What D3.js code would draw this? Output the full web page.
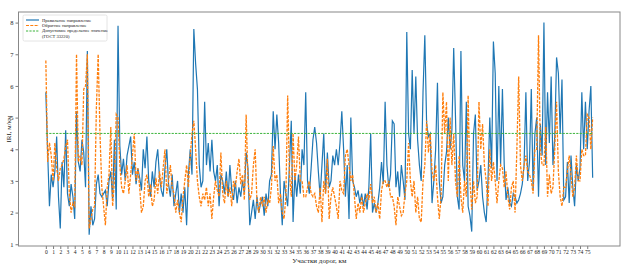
<!DOCTYPE html>
<html>
<head>
<meta charset="utf-8">
<title>IRI по участкам дорог</title>
<script src="https://d3js.org/d3.v7.min.js"></script>
<style>
    body { margin: 0; background: #fff; }
    #chart text { font-family: "Liberation Serif", "DejaVu Serif", serif; fill: #222; }
    .line { fill: none; }
</style>
</head>
<body>
<div id="chart"></div>
<script>
// шаг между замерами, км
var step = 0.25;

// Правильное направление (4 замера на км)
var forward = [
    5.8, 3.9, 2.2, 3.2,  2.8, 3.3, 4.4, 2.5,  1.5, 3.6, 2.8, 4.6,  2.6, 2.2, 2.9, 2.5,
    1.8, 5.2, 3.6, 3.3,  4.3, 3.9, 2.8, 7.1,  1.3, 2.2, 1.6, 1.8,  2.9, 3.2, 2.6, 2.5,
    2.6, 2.7, 2.2, 3.0,  3.3, 2.4, 4.3, 2.1,  7.9, 4.1, 3.2, 3.7,  3.0, 3.8, 4.1, 4.4,
    3.2, 3.6, 2.9, 3.4,  3.1, 2.7, 4.0, 3.4,  4.4, 3.0, 2.5, 3.3,  2.8, 3.6, 4.0, 3.1,
    2.7, 2.5, 3.4, 4.0,  2.9, 2.5, 3.2, 2.2,  2.6, 3.0, 2.0, 2.6,  2.0, 2.8, 1.6, 3.2,
    4.0, 3.2, 7.8, 6.7,  5.9, 3.5, 2.8, 3.0,  5.5, 3.5, 4.2, 3.3,  4.3, 3.3, 3.0, 3.5,
    2.2, 3.2, 3.0, 2.6,  3.3, 2.5, 3.5, 2.7,  2.4, 3.0, 2.3, 2.8,  2.5, 3.0, 2.6, 3.9,
    3.4, 1.6, 2.0, 2.4,  1.8, 2.5, 2.0, 2.3,  2.5, 1.9, 2.6, 2.2,  3.0, 3.2, 5.2, 4.0,
    5.1, 4.2, 2.6, 1.6,  3.0, 2.6, 2.2, 3.5,  4.9, 1.7, 3.2, 2.5,  3.2, 2.6, 4.0, 3.5,
    5.8, 3.0, 2.6, 3.4,  4.3, 4.7, 4.2, 3.3,  2.5, 3.5, 4.5, 2.6,  3.9, 2.8, 3.0, 3.8,
    3.5, 4.0, 3.5, 4.2,  5.2, 4.0, 2.5, 3.5,  1.8, 5.0, 3.0, 2.8,  2.5, 2.7, 2.3, 2.6,
    2.2, 2.6, 2.1, 2.8,  4.5, 2.0, 2.3, 2.0,  2.3, 2.8, 3.6, 2.9,  5.5, 3.5, 2.8, 3.2,
    4.9, 4.8, 2.8, 3.3,  2.5, 3.5, 3.0, 2.4,  7.7, 4.5, 4.0, 6.5,  4.5, 6.3, 4.3, 3.5,
    3.0, 5.8, 7.6, 4.8,  4.4, 4.5, 2.3, 3.0,  4.0, 6.1, 3.0, 2.3,  2.5, 3.5, 3.9, 5.0,
    4.0, 4.6, 7.2, 5.0,  2.5, 2.1, 7.1, 3.5,  3.0, 5.5, 2.2, 1.9,  1.4, 4.5, 5.1, 2.7,
    3.0, 3.5, 2.5, 2.0,  1.7, 3.0, 5.0, 3.4,  7.4, 6.4, 3.0, 6.0,  3.5, 5.9, 3.5, 2.4,
    2.8, 2.3, 2.2, 2.6,  2.5, 2.3, 2.4, 2.6,  2.9, 3.5, 5.8, 3.0,  3.6, 5.9, 2.7, 4.5,
    5.0, 2.5, 4.8, 3.8,  8.0, 3.5, 5.8, 4.2,  6.3, 3.5, 4.4, 6.9,  6.4, 4.5, 6.2, 2.4,
    2.5, 3.6, 2.3, 3.8,  2.8, 2.2, 3.5, 3.0,  3.4, 5.8, 4.0, 5.5,  4.0, 5.2, 6.0, 3.1
];

// Обратное направление
var backward = [
    6.8, 3.6, 4.2, 3.8,  3.0, 4.2, 3.4, 3.0,  3.4, 3.5, 3.7, 4.1,  4.3, 2.6, 2.0, 2.3,
    2.2, 7.0, 3.6, 3.8,  3.5, 5.9, 6.0, 7.0,  1.5, 1.8, 2.1, 2.2,  5.3, 7.0, 4.5, 2.8,
    2.2, 1.6, 2.8, 3.2,  4.7, 2.2, 3.0, 5.1,  5.0, 3.5, 2.8, 2.6,  3.0, 3.5, 2.6, 3.2,
    3.8, 4.5, 3.0, 3.4,  2.8, 2.0, 2.2, 3.0,  3.2, 2.5, 2.9, 2.2,  2.4, 3.1, 2.6, 3.3,
    2.8, 3.4, 4.0, 2.6,  3.0, 3.5, 2.8, 2.6,  2.0, 2.4, 2.0, 1.7,  2.5, 3.0, 3.5, 2.8,
    3.8, 4.5, 4.9, 4.0,  3.0, 2.5, 2.2, 2.6,  2.4, 2.8, 2.2, 2.6,  1.8, 2.5, 3.0, 2.7,
    2.5, 3.9, 2.6, 2.3,  3.0, 2.5, 2.8, 2.2,  3.0, 2.8, 3.3, 3.7,  2.9, 3.2, 2.4, 5.1,
    3.0, 2.4, 2.6, 3.5,  4.0, 2.3, 2.0, 2.5,  2.2, 2.5, 2.0, 2.4,  2.3, 2.8, 4.1, 3.0,
    3.2, 2.3, 2.6, 2.0,  1.8, 2.5, 5.7, 3.2,  2.5, 4.5, 3.0, 3.5,  4.4, 3.0, 3.0, 2.5,
    2.5, 2.8, 3.0, 2.6,  2.5, 2.6, 2.2, 2.0,  2.8, 1.7, 3.0, 2.6,  3.7, 1.8, 2.5, 2.8,
    2.5, 2.2, 1.8, 3.0,  2.7, 2.6, 3.8, 4.0,  3.5, 3.0, 3.2, 2.5,  1.8, 2.3, 2.0, 2.5,
    2.0, 2.3, 2.6, 2.4,  2.9, 2.3, 2.5, 2.0,  2.3, 1.8, 2.7, 3.0,  3.0, 2.8, 3.0, 2.5,
    2.5, 2.2, 1.6, 2.5,  2.2, 1.9, 2.0, 2.6,  3.0, 4.2, 3.0, 2.5,  3.0, 2.0, 2.5, 1.8,
    1.7, 3.0, 3.5, 4.9,  3.9, 4.5, 3.3, 3.0,  3.5, 2.5, 1.8, 2.5,  5.8, 4.5, 5.5, 3.0,
    5.0, 3.5, 4.5, 3.0,  2.5, 3.8, 2.5, 2.0,  3.0, 2.5, 5.7, 3.0,  2.1, 3.0, 2.3, 2.5,
    5.5, 4.0, 4.8, 3.5,  3.0, 2.2, 4.0, 3.0,  3.6, 3.0, 2.3, 3.0,  3.5, 3.4, 2.8, 3.3,
    2.5, 2.1, 2.8, 3.0,  2.0, 4.0, 6.3, 3.5,  3.0, 3.5, 3.8, 3.3,  3.2, 3.0, 2.6, 4.0,
    4.0, 7.6, 4.0, 3.5,  3.5, 4.7, 2.5, 3.2,  2.6, 2.8, 4.0, 5.5,  3.3, 2.5, 2.2, 2.8,
    2.8, 3.3, 3.8, 3.2,  2.5, 2.8, 3.8, 3.0,  3.0, 4.0, 3.8, 3.8,  5.1, 5.0, 4.0, 5.0
];

// Допустимое предельное значение (ГОСТ 33220)
var limitValue = 4.5;

var xTicks = d3.range(0, 76);
var yTicks = [1, 2, 3, 4, 5, 6, 7, 8];
var legendLabels = ["Правильное направление", "Обратное направление",
                    "Допустимое предельное значение", "(ГОСТ 33220)"];

var width = 624, height = 268;
var margin = { top: 12, right: 4, bottom: 22, left: 18.5 };

var svg = d3.select("#chart").append("svg")
    .attr("width", width)
    .attr("height", height);

var maxKm = (forward.length - 1) * step;
var padX = maxKm * 0.05;
var x = d3.scaleLinear()
    .domain([-padX, maxKm + padX])
    .range([margin.left, width - margin.right]);

var allVals = forward.concat(backward);
var yMin = d3.min(allVals), yMax = d3.max(allVals);
var padY = (yMax - yMin) * 0.05;
var y = d3.scaleLinear()
    .domain([yMin - padY - 0.02, yMax + padY])
    .range([height - margin.bottom, margin.top]);

var line = d3.line()
    .x(function(d, i) { return x(i * step); })
    .y(function(d) { return y(d); });

svg.append("path")
    .datum(forward)
    .attr("class", "line")
    .attr("d", line)
    .attr("stroke", "#1f77b4")
    .attr("stroke-width", 1.2);

svg.append("path")
    .datum(backward)
    .attr("class", "line")
    .attr("d", line)
    .attr("stroke", "#ff7f0e")
    .attr("stroke-width", 1.3)
    .attr("stroke-dasharray", "3,1.3");

svg.append("line")
    .attr("x1", x(0)).attr("x2", x(maxKm))
    .attr("y1", y(limitValue)).attr("y2", y(limitValue))
    .attr("stroke", "#3cb43c")
    .attr("stroke-width", 1)
    .attr("stroke-dasharray", "2.2,1.2");

// axes
var xAxis = svg.append("g")
    .attr("transform", "translate(0," + (height - margin.bottom) + ")")
    .call(d3.axisBottom(x).tickValues(xTicks).tickSize(3).tickPadding(1.5));
xAxis.selectAll("text").style("font-size", "5.6px");

var yAxis = svg.append("g")
    .attr("transform", "translate(" + margin.left + ",0)")
    .call(d3.axisLeft(y).tickValues(yTicks).tickSize(3).tickPadding(2));
yAxis.selectAll("text").style("font-size", "6.5px");

svg.selectAll(".domain").remove();
svg.selectAll(".tick line").attr("stroke", "#444").attr("stroke-width", 0.7);

// frame
svg.append("rect")
    .attr("x", margin.left)
    .attr("y", margin.top)
    .attr("width", width - margin.right - margin.left)
    .attr("height", height - margin.bottom - margin.top)
    .attr("fill", "none")
    .attr("stroke", "#888")
    .attr("stroke-width", 1);

svg.append("text")
    .attr("x", (margin.left + width - margin.right) / 2)
    .attr("y", 263)
    .attr("text-anchor", "middle")
    .style("font-size", "7px")
    .text("Участки дорог, км");

svg.append("text")
    .attr("transform", "translate(11," + (margin.top + height - margin.bottom) / 2 + ") rotate(-90)")
    .attr("text-anchor", "middle")
    .style("font-size", "7px")
    .text("IRI, м/км");

// legend
var legend = svg.append("g").attr("transform", "translate(23,15)");
legend.append("rect")
    .attr("width", 84).attr("height", 26)
    .attr("rx", 1.5)
    .attr("fill", "#fff").attr("fill-opacity", 0.85)
    .attr("stroke", "#ddd").attr("stroke-width", 0.8);

var handles = [
    { color: "#1f77b4", dash: null, w: 1.2, y: 5 },
    { color: "#ff7f0e", dash: "3,1.3", w: 1.2, y: 10.5 },
    { color: "#3cb43c", dash: "2.2,1.2", w: 1, y: 16 }
];
legend.selectAll(".handle")
    .data(handles)
    .enter().append("line")
    .attr("x1", 3).attr("x2", 16)
    .attr("y1", function(d) { return d.y; })
    .attr("y2", function(d) { return d.y; })
    .attr("stroke", function(d) { return d.color; })
    .attr("stroke-width", function(d) { return d.w; })
    .attr("stroke-dasharray", function(d) { return d.dash; });

legend.selectAll(".lbl")
    .data(legendLabels)
    .enter().append("text")
    .attr("x", 19)
    .attr("y", function(d, i) { return 6.6 + i * 5.4; })
    .style("font-size", "4.6px")
    .text(function(d) { return d; });
</script>
</body>
</html>
